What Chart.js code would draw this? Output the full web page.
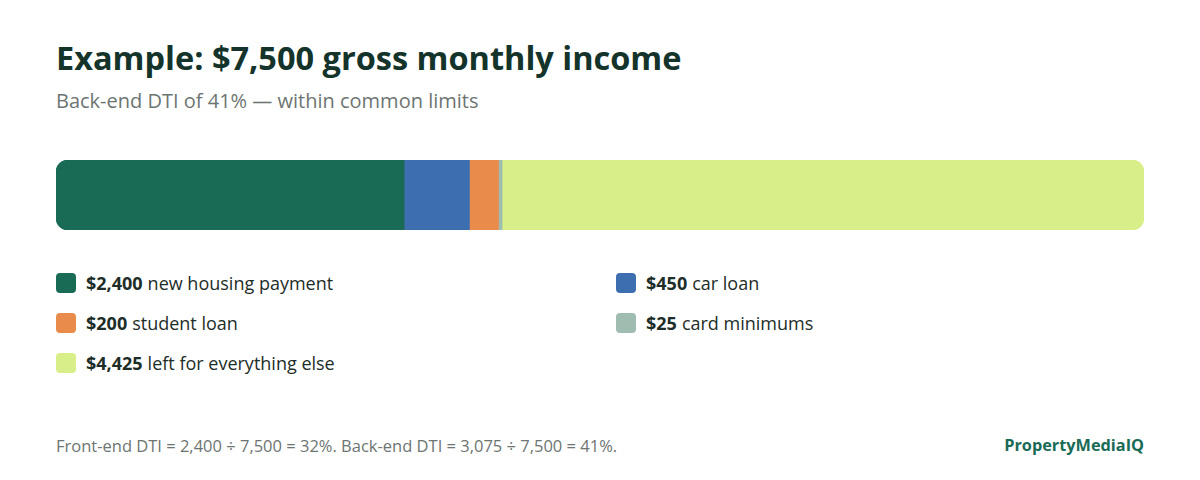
<!DOCTYPE html>
<html lang="en">
<head>
    <meta charset="UTF-8">
    <title>DTI Example</title>
    <script src="https://cdn.jsdelivr.net/npm/chart.js@4.4.1/dist/chart.umd.min.js"></script>
    <style>
        * {
            margin: 0;
            padding: 0;
            box-sizing: border-box;
        }

        body {
            font-family: 'Open Sans', 'Noto Sans', sans-serif;
            background: #ffffff;
            width: 1200px;
            height: 480px;
            position: relative;
            overflow: hidden;
        }

        h1 {
            position: absolute;
            left: 56px;
            top: 35px;
            font-size: 32.5px;
            font-weight: 700;
            color: #14332a;
        }

        .subtitle {
            position: absolute;
            left: 56px;
            top: 87px;
            font-size: 20px;
            color: #6d7572;
        }

        .bar-wrap {
            position: absolute;
            left: 56px;
            top: 160px;
            width: 1088px;
            height: 70px;
        }

        .legend {
            position: absolute;
            left: 56px;
            top: 271px;
            width: 1088px;
            display: grid;
            grid-template-columns: 560px 1fr;
            row-gap: 16px;
        }

        .legend-item {
            display: flex;
            align-items: center;
            height: 24px;
            font-size: 18px;
            color: #1d2d28;
        }

        .swatch {
            width: 20px;
            height: 20px;
            border-radius: 4px;
            margin-right: 10px;
            flex: none;
        }

        .legend-item b {
            font-weight: 700;
            margin-right: 5px;
        }

        .footnote {
            position: absolute;
            left: 56px;
            top: 434px;
            font-size: 16.5px;
            color: #6d7572;
        }

        .brand {
            position: absolute;
            right: 56px;
            top: 434px;
            font-size: 16.3px;
            font-weight: 700;
            color: #1a6b56;
        }
    </style>
</head>
<body>
    <h1>Example: $7,500 gross monthly income</h1>
    <div class="subtitle">Back-end DTI of 41% — within common limits</div>

    <div class="bar-wrap">
        <canvas id="dtiBar"></canvas>
    </div>

    <div class="legend" id="legend"></div>

    <div class="footnote">Front-end DTI = 2,400 ÷ 7,500 = 32%. Back-end DTI = 3,075 ÷ 7,500 = 41%.</div>
    <div class="brand">PropertyMediaIQ</div>

    <script>
        // data
        const amounts = [2400, 450, 200, 25, 4425];
        const amountLabels = ['$2,400', '$450', '$200', '$25', '$4,425'];
        const descriptions = ['new housing payment', 'car loan', 'student loan', 'card minimums', 'left for everything else'];
        const colors = ['#1a6b56', '#3c6eb0', '#e98b4b', '#9fbcb1', '#d8ee88'];

        const total = amounts.reduce((a, b) => a + b, 0);
        const last = amounts.length - 1;

        const datasets = amounts.map((v, i) => ({
            label: descriptions[i],
            data: [v],
            backgroundColor: colors[i],
            borderWidth: 0,
            borderSkipped: false,
            borderRadius: {
                topLeft: i === 0 ? 12 : 0,
                bottomLeft: i === 0 ? 12 : 0,
                topRight: i === last ? 12 : 0,
                bottomRight: i === last ? 12 : 0
            },
            barPercentage: 1,
            categoryPercentage: 1
        }));

        new Chart(document.getElementById('dtiBar'), {
            type: 'bar',
            data: {
                labels: ['Income'],
                datasets: datasets
            },
            options: {
                indexAxis: 'y',
                responsive: true,
                maintainAspectRatio: false,
                animation: false,
                layout: { padding: 0 },
                plugins: {
                    legend: { display: false },
                    tooltip: { enabled: false }
                },
                scales: {
                    x: { stacked: true, min: 0, max: total, display: false },
                    y: { stacked: true, display: false }
                }
            }
        });

        // legend in two columns, same order as the picture
        const legend = document.getElementById('legend');
        amounts.forEach((v, i) => {
            const item = document.createElement('div');
            item.className = 'legend-item';
            item.innerHTML = '<span class="swatch" style="background:' + colors[i] + '"></span>' +
                '<b>' + amountLabels[i] + '</b>' + descriptions[i];
            legend.appendChild(item);
        });
    </script>
</body>
</html>
